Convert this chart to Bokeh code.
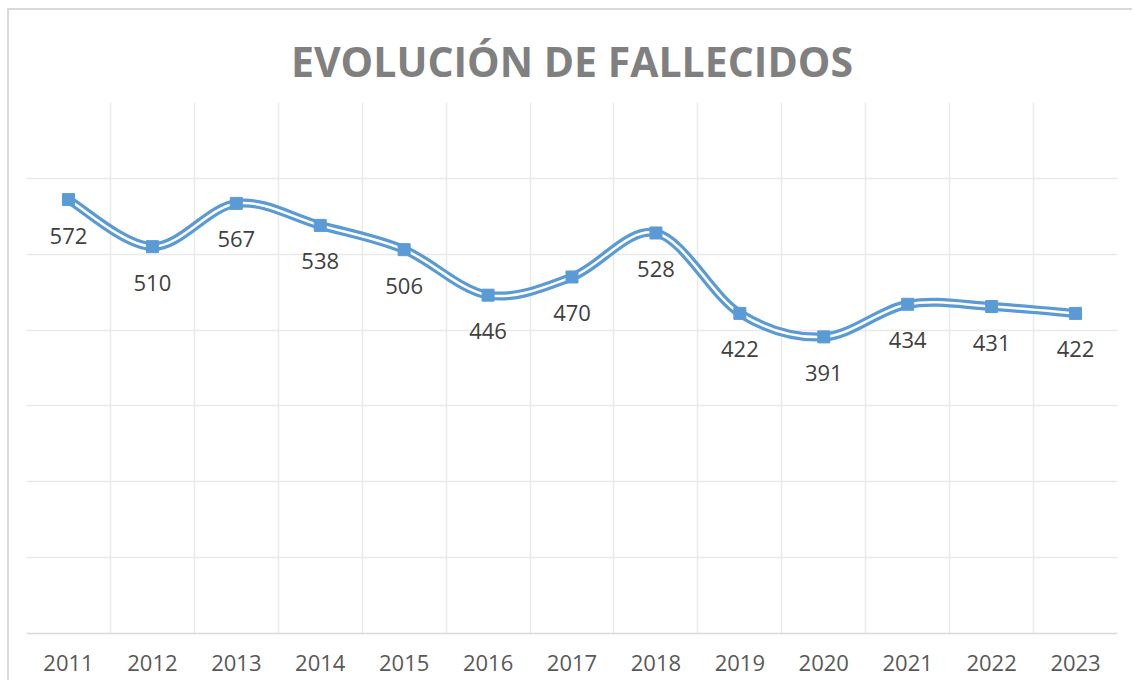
from bokeh.plotting import figure
from bokeh.models import Range1d, FixedTicker, ColumnDataSource
from bokeh.core.properties import value
from bokeh.embed import file_html
from bokeh.resources import INLINE

years = ["2011", "2012", "2013", "2014", "2015", "2016", "2017",
         "2018", "2019", "2020", "2021", "2022", "2023"]
fallecidos = [572, 510, 567, 538, 506, 446, 470, 528, 422, 391, 434, 431, 422]
title_text = "EVOLUCIÓN DE FALLECIDOS"

BLUE = "#5B9BD5"
FONT = "Open Sans"

xs = list(range(len(years)))

p = figure(width=1125, height=672, output_backend="svg", toolbar_location=None,
           x_range=Range1d(-0.5, len(years) - 0.5), y_range=Range1d(0, 700),
           min_border_left=17, min_border_right=17, min_border_top=92,
           min_border_bottom=49)
p.styles = {"margin-left": "7px", "margin-top": "8px",
            "border-left": "2px solid #D9D9D9", "border-top": "2px solid #D9D9D9"}

p.title.text = title_text
p.title.align = "center"
p.title.text_font = FONT
p.title.text_font_size = "41px"
p.title.text_font_style = "bold"
p.title.text_color = "#808080"
p.title.text_line_height = 0.8
p.title.standoff = 28

p.outline_line_color = None
p.background_fill_color = "white"
p.border_fill_color = "white"

# axes
p.yaxis.visible = False
p.xaxis.ticker = FixedTicker(ticks=xs)
p.xaxis.major_label_overrides = {i: y for i, y in enumerate(years)}
p.xaxis.major_tick_line_color = None
p.xaxis.minor_tick_line_color = None
p.xaxis.axis_line_color = "#D9D9D9"
p.xaxis.axis_line_width = 1.5
p.xaxis.major_label_text_font = FONT
p.xaxis.major_label_text_font_size = "22px"
p.xaxis.major_label_text_color = "#595959"
p.xaxis.major_label_standoff = 15

# grids
p.xgrid.ticker = FixedTicker(ticks=[i - 0.5 for i in range(len(years) + 1)])
p.xgrid.grid_line_color = "#E9E9E9"
p.xgrid.grid_line_width = 1.5
p.ygrid.ticker = FixedTicker(ticks=list(range(0, 701, 100)))
p.ygrid.grid_line_color = "#E9E9E9"
p.ygrid.grid_line_width = 1.5

# smoothed line (Excel-style Catmull-Rom bezier)
n = len(fallecidos)
x0, y0, x1, y1, cx0, cy0, cx1, cy1 = ([] for _ in range(8))
for i in range(n - 1):
    im1 = max(i - 1, 0)
    ip2 = min(i + 2, n - 1)
    x0.append(xs[i]); y0.append(fallecidos[i])
    x1.append(xs[i + 1]); y1.append(fallecidos[i + 1])
    cx0.append(xs[i] + (xs[i + 1] - xs[im1]) / 6)
    cy0.append(fallecidos[i] + (fallecidos[i + 1] - fallecidos[im1]) / 6)
    cx1.append(xs[i + 1] - (xs[ip2] - xs[i]) / 6)
    cy1.append(fallecidos[i + 1] - (fallecidos[ip2] - fallecidos[i]) / 6)
bsrc = ColumnDataSource(dict(x0=x0, y0=y0, x1=x1, y1=y1, cx0=cx0, cy0=cy0, cx1=cx1, cy1=cy1))
p.bezier(x0="x0", y0="y0", x1="x1", y1="y1", cx0="cx0", cy0="cy0", cx1="cx1", cy1="cy1",
         source=bsrc, line_color=BLUE, line_width=9)
p.bezier(x0="x0", y0="y0", x1="x1", y1="y1", cx0="cx0", cy0="cy0", cx1="cx1", cy1="cy1",
         source=bsrc, line_color="white", line_width=2.5)

src = ColumnDataSource(dict(x=xs, y=fallecidos, lab=[str(v) for v in fallecidos]))
p.scatter("x", "y", source=src, marker="square", size=12, fill_color=BLUE, line_color=BLUE)
p.text("x", "y", text="lab", source=src, y_offset=36, text_align="center",
       text_baseline="middle", text_font=value(FONT), text_font_size="22px",
       text_color="#404040")

open("out.html", "w").write(file_html(p, INLINE))
